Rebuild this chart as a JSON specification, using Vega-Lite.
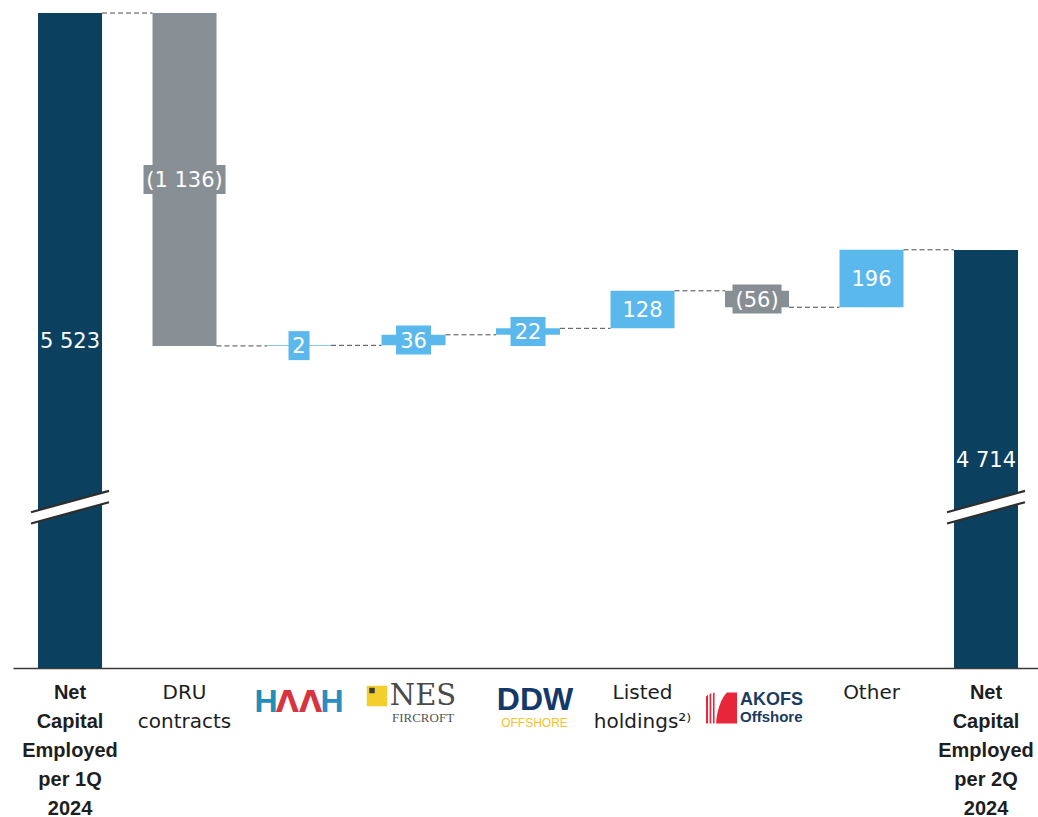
{
  "$schema": "https://vega.github.io/schema/vega-lite/v6.json",
  "width": 1025,
  "height": 655,
  "autosize": {"type": "none"},
  "padding": {"left": 13, "top": 13, "right": 0, "bottom": 149},
  "background": "white",
  "config": {"view": {"stroke": null}},
  "datasets": {
    "steps": [
      {"cat": "Net Capital Employed per 1Q 2024", "start": 0, "end": 5523, "label": "5 523", "kind": "total"},
      {"cat": "DRU contracts", "start": 5523, "end": 4387, "label": "(1 136)", "kind": "neg"},
      {"cat": "HMH", "start": 4387, "end": 4389, "label": "2", "kind": "pos"},
      {"cat": "NES Fircroft", "start": 4389, "end": 4425, "label": "36", "kind": "pos"},
      {"cat": "DDW Offshore", "start": 4425, "end": 4447, "label": "22", "kind": "pos"},
      {"cat": "Listed holdings", "start": 4447, "end": 4575, "label": "128", "kind": "pos"},
      {"cat": "AKOFS Offshore", "start": 4575, "end": 4519, "label": "(56)", "kind": "neg"},
      {"cat": "Other", "start": 4519, "end": 4715, "label": "196", "kind": "pos"},
      {"cat": "Net Capital Employed per 2Q 2024", "start": 0, "end": 4714, "label": "4 714", "kind": "total"}
    ],
    "links": [
      {"from": "Net Capital Employed per 1Q 2024", "to": "DRU contracts", "level": 5523},
      {"from": "DRU contracts", "to": "HMH", "level": 4387},
      {"from": "HMH", "to": "NES Fircroft", "level": 4389},
      {"from": "NES Fircroft", "to": "DDW Offshore", "level": 4425},
      {"from": "DDW Offshore", "to": "Listed holdings", "level": 4447},
      {"from": "Listed holdings", "to": "AKOFS Offshore", "level": 4575},
      {"from": "AKOFS Offshore", "to": "Other", "level": 4519},
      {"from": "Other", "to": "Net Capital Employed per 2Q 2024", "level": 4715}
    ]
  },
  "layer": [
    {
      "data": {"name": "steps"},
      "mark": {"type": "bar", "orient": "vertical"},
      "encoding": {
        "x": {
          "field": "cat", "type": "nominal", "title": null,
          "scale": {
            "domain": ["Net Capital Employed per 1Q 2024", "DRU contracts", "HMH", "NES Fircroft", "DDW Offshore", "Listed holdings", "AKOFS Offshore", "Other", "Net Capital Employed per 2Q 2024"],
            "paddingInner": 0.441, "paddingOuter": 0.1965, "align": 0.556
          },
          "axis": {
            "domain": true, "domainColor": "#3a3a3a", "domainWidth": 1.6,
            "ticks": false, "grid": false,
            "labelAngle": 0, "labelOverlap": false, "labelBound": false, "labelLimit": 0,
            "labelFontSize": 20, "labelColor": "#1e1e1e",
            "labelFont": {"condition": {"test": "indexof(datum.value, 'Net Capital') == 0", "value": "Liberation Sans"}, "value": "DejaVu Sans"},
            "labelFontWeight": {"condition": {"test": "indexof(datum.value, 'Net Capital') == 0", "value": "bold"}, "value": "normal"},
            "labelLineHeight": 29, "labelBaseline": "top", "labelPadding": 14,
            "labelExpr": "datum.value == 'Net Capital Employed per 1Q 2024' ? ['Net','Capital','Employed','per 1Q','2024'] : datum.value == 'Net Capital Employed per 2Q 2024' ? ['Net','Capital','Employed','per 2Q','2024'] : datum.value == 'DRU contracts' ? ['DRU','contracts'] : datum.value == 'Listed holdings' ? ['Listed','holdings²⁾'] : datum.value == 'Other' ? 'Other' : ''"
          }
        },
        "y": {
          "field": "end", "type": "quantitative", "axis": null,
          "scale": {"domain": [3288, 5523], "clamp": true, "nice": false, "zero": false}
        },
        "y2": {"field": "start"},
        "color": {
          "field": "kind", "type": "nominal", "legend": null,
          "scale": {"domain": ["total", "neg", "pos"], "range": ["#0C405F", "#878F95", "#5BB8EC"]}
        }
      }
    },
    {
      "data": {"name": "links"},
      "mark": {"type": "rule", "color": "#4a4a4a", "strokeWidth": 1, "strokeDash": [5, 3], "xOffset": 32, "x2Offset": -32},
      "encoding": {
        "x": {"field": "from", "type": "nominal", "title": null},
        "x2": {"field": "to"},
        "y": {"field": "level", "type": "quantitative", "title": null}
      }
    },
    {
      "data": {"name": "steps"},
      "transform": [
        {"filter": "datum.kind != 'total' && datum.label != '128' && datum.label != '196'"},
        {"calculate": "(datum.start + datum.end) / 2", "as": "mid"}
      ],
      "mark": {"type": "tick", "orient": "horizontal", "thickness": 29, "opacity": 1},
      "encoding": {
        "x": {"field": "cat", "type": "nominal", "title": null},
        "y": {"field": "mid", "type": "quantitative", "title": null},
        "size": {
          "field": "label", "type": "nominal", "legend": null,
          "scale": {"type": "ordinal", "domain": ["(1 136)", "2", "36", "22", "(56)"], "range": [82, 21, 35, 35, 49]}
        },
        "color": {"field": "kind", "type": "nominal", "legend": null}
      }
    },
    {
      "data": {"name": "steps"},
      "transform": [
        {"calculate": "(max(datum.start, 3288) + datum.end) / 2", "as": "mid"}
      ],
      "mark": {"type": "text", "font": "DejaVu Sans", "fontSize": 21, "color": "white", "align": "center", "baseline": "middle", "dy": 1.5},
      "encoding": {
        "x": {"field": "cat", "type": "nominal", "title": null},
        "y": {"field": "mid", "type": "quantitative", "title": null},
        "text": {"field": "label"}
      }
    },
    {
      "data": {"name": "steps"},
      "transform": [{"filter": "datum.kind == 'total'"}],
      "mark": {"type": "point", "shape": "M-1,0.128L1,-0.418L1,-0.128L-1,0.418Z", "size": 6084, "filled": true, "fill": "white", "opacity": 1, "strokeWidth": 0},
      "encoding": {
        "x": {"field": "cat", "type": "nominal", "title": null},
        "y": {"datum": 3836.6, "type": "quantitative"}
      }
    },
    {
      "data": {"name": "steps"},
      "transform": [{"filter": "datum.kind == 'total'"}],
      "mark": {"type": "point", "shape": "M-1,0.128L1,-0.418M-1,0.418L1,-0.128", "size": 6084, "filled": false, "stroke": "#2e2e2e", "strokeWidth": 2.2, "opacity": 1},
      "encoding": {
        "x": {"field": "cat", "type": "nominal", "title": null},
        "y": {"datum": 3836.6, "type": "quantitative"}
      }
    },
    {
      "data": {"values": [{"cat": "HMH", "t": "H"}]},
      "mark": {"type": "text", "font": "Liberation Sans", "fontWeight": "bold", "fontSize": 32, "color": "#1E8FB8", "align": "center", "baseline": "alphabetic", "dx": -33, "dy": 44},
      "encoding": {"x": {"field": "cat", "type": "nominal", "title": null}, "y": {"datum": 3288, "type": "quantitative"}, "text": {"field": "t"}}
    },
    {
      "data": {"values": [{"cat": "HMH", "t": "ΛΛ"}]},
      "mark": {"type": "text", "font": "DejaVu Sans", "fontWeight": "bold", "fontSize": 30, "color": "#D8343F", "align": "center", "baseline": "alphabetic", "dx": 0, "dy": 44},
      "encoding": {"x": {"field": "cat", "type": "nominal", "title": null}, "y": {"datum": 3288, "type": "quantitative"}, "text": {"field": "t"}}
    },
    {
      "data": {"values": [{"cat": "HMH", "t": "H"}]},
      "mark": {"type": "text", "font": "Liberation Sans", "fontWeight": "bold", "fontSize": 32, "color": "#2A8FC0", "align": "center", "baseline": "alphabetic", "dx": 33, "dy": 44},
      "encoding": {"x": {"field": "cat", "type": "nominal", "title": null}, "y": {"datum": 3288, "type": "quantitative"}, "text": {"field": "t"}}
    },
    {
      "data": {"values": [{"cat": "NES Fircroft"}]},
      "mark": {"type": "point", "shape": "square", "size": 420, "filled": true, "color": "#F2CF2D", "opacity": 1, "strokeWidth": 0, "xOffset": -36.5, "yOffset": 28},
      "encoding": {"x": {"field": "cat", "type": "nominal", "title": null}, "y": {"datum": 3288, "type": "quantitative"}}
    },
    {
      "data": {"values": [{"cat": "NES Fircroft"}]},
      "mark": {"type": "point", "shape": "square", "size": 30, "filled": true, "color": "#3a3a3a", "opacity": 1, "strokeWidth": 0, "xOffset": -41.5, "yOffset": 22.5},
      "encoding": {"x": {"field": "cat", "type": "nominal", "title": null}, "y": {"datum": 3288, "type": "quantitative"}}
    },
    {
      "data": {"values": [{"cat": "NES Fircroft", "t": "NES"}]},
      "mark": {"type": "text", "font": "DejaVu Serif", "fontSize": 29, "color": "#4a4a4a", "align": "center", "baseline": "alphabetic", "dx": 9.5, "dy": 37},
      "encoding": {"x": {"field": "cat", "type": "nominal", "title": null}, "y": {"datum": 3288, "type": "quantitative"}, "text": {"field": "t"}}
    },
    {
      "data": {"values": [{"cat": "NES Fircroft", "t": "FIRCROFT"}]},
      "mark": {"type": "text", "font": "Liberation Serif", "fontSize": 13, "color": "#555555", "align": "center", "baseline": "alphabetic", "dx": 9.5, "dy": 54},
      "encoding": {"x": {"field": "cat", "type": "nominal", "title": null}, "y": {"datum": 3288, "type": "quantitative"}, "text": {"field": "t"}}
    },
    {
      "data": {"values": [{"cat": "DDW Offshore", "t": "DDW"}]},
      "mark": {"type": "text", "font": "Liberation Sans", "fontWeight": "bold", "fontSize": 32, "color": "#13386A", "align": "center", "baseline": "alphabetic", "dx": 7, "dy": 42},
      "encoding": {"x": {"field": "cat", "type": "nominal", "title": null}, "y": {"datum": 3288, "type": "quantitative"}, "text": {"field": "t"}}
    },
    {
      "data": {"values": [{"cat": "DDW Offshore", "t": "OFFSHORE"}]},
      "mark": {"type": "text", "font": "Liberation Sans", "fontSize": 12, "color": "#F4C22C", "align": "center", "baseline": "alphabetic", "dx": 6.5, "dy": 59},
      "encoding": {"x": {"field": "cat", "type": "nominal", "title": null}, "y": {"datum": 3288, "type": "quantitative"}, "text": {"field": "t"}}
    },
    {
      "data": {"values": [{"cat": "AKOFS Offshore"}]},
      "mark": {"type": "point", "shape": "M-1,1L-1,-0.75L-0.87,-0.85L-0.87,1Z M-0.77,1L-0.77,-0.9L-0.66,-0.95L-0.66,1Z M-0.55,1L-0.55,-0.97L-0.45,-1L-0.45,1Z M-0.35,1C-0.3,0.2 -0.05,-0.6 0.35,-1L1,-1L1,1Z", "size": 961, "filled": true, "color": "#E8263A", "opacity": 1, "strokeWidth": 0, "xOffset": -35.5, "yOffset": 40},
      "encoding": {"x": {"field": "cat", "type": "nominal", "title": null}, "y": {"datum": 3288, "type": "quantitative"}}
    },
    {
      "data": {"values": [{"cat": "AKOFS Offshore", "t": "AKOFS"}]},
      "mark": {"type": "text", "font": "Liberation Sans", "fontWeight": "bold", "fontSize": 18, "color": "#1B3C5E", "align": "left", "baseline": "alphabetic", "dx": -17, "dy": 37},
      "encoding": {"x": {"field": "cat", "type": "nominal", "title": null}, "y": {"datum": 3288, "type": "quantitative"}, "text": {"field": "t"}}
    },
    {
      "data": {"values": [{"cat": "AKOFS Offshore", "t": "Offshore"}]},
      "mark": {"type": "text", "font": "Liberation Sans", "fontWeight": "bold", "fontSize": 15, "color": "#1B3C5E", "align": "left", "baseline": "alphabetic", "dx": -17, "dy": 54},
      "encoding": {"x": {"field": "cat", "type": "nominal", "title": null}, "y": {"datum": 3288, "type": "quantitative"}, "text": {"field": "t"}}
    }
  ]
}
